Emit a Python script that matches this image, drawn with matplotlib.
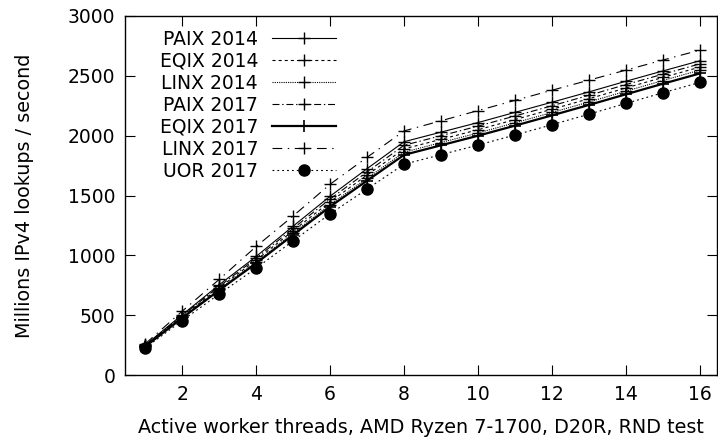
import matplotlib
matplotlib.use('Agg')
import matplotlib.pyplot as plt

plt.rcParams['font.family'] = ['DejaVu Sans']
plt.rcParams['lines.scale_dashes'] = False

threads = list(range(1, 17))

paix_2014 = [252, 505, 755, 992, 1245, 1495, 1725, 1950, 2030, 2110, 2195, 2280, 2366, 2455, 2541, 2626]
eqix_2014 = [245, 490, 730, 961, 1207, 1448, 1672, 1890, 1970, 2050, 2135, 2221, 2309, 2399, 2487, 2573]
linx_2014 = [242, 483, 718, 945, 1188, 1425, 1645, 1862, 1943, 2023, 2108, 2194, 2282, 2372, 2461, 2548]
paix_2017 = [249, 498, 741, 977, 1226, 1472, 1698, 1920, 2000, 2080, 2165, 2250, 2338, 2427, 2514, 2600]
eqix_2017 = [239, 478, 710, 935, 1172, 1408, 1625, 1840, 1920, 2000, 2084, 2170, 2257, 2346, 2434, 2520]
linx_2017 = [262, 535, 800, 1075, 1330, 1595, 1820, 2040, 2125, 2210, 2295, 2380, 2464, 2548, 2632, 2715]
uor_2017 = [228, 456, 678, 894, 1122, 1348, 1555, 1762, 1842, 1922, 2006, 2092, 2180, 2270, 2359, 2445]

fig = plt.figure(figsize=(7.18, 4.44), dpi=100)
ax = fig.add_axes([0.174, 0.155, 0.825, 0.809])

ax.plot(threads, paix_2014, color='black', lw=0.8, marker='+', ms=9, mew=1, label='PAIX 2014')
ax.plot(threads, eqix_2014, color='black', lw=0.8, marker='+', ms=9, mew=1, dashes=(2.2, 2.2), label='EQIX 2014')
ax.plot(threads, linx_2014, color='black', lw=0.8, marker='+', ms=9, mew=1, dashes=(0.8, 0.8), label='LINX 2014')
ax.plot(threads, paix_2017, color='black', lw=0.8, marker='+', ms=9, mew=1, dashes=(5, 2, 1, 2), label='PAIX 2017')
ax.plot(threads, eqix_2017, color='black', lw=1.6, marker='+', ms=9, mew=1.2, label='EQIX 2017')
ax.plot(threads, linx_2017, color='black', lw=0.8, marker='+', ms=9, mew=1, dashes=(7, 4, 1, 4), label='LINX 2017')
ax.plot(threads, uor_2017, color='black', lw=0.8, marker='o', ms=8, dashes=(1.3, 2.2), label='UOR 2017')

ax.set_xlim(0.45, 16.47)
ax.set_ylim(0, 3000)
ax.set_xticks([2, 4, 6, 8, 10, 12, 14, 16])
ax.set_yticks([0, 500, 1000, 1500, 2000, 2500, 3000])
ax.tick_params(direction='in', length=7, width=0.8, top=True, right=True, labelsize=13.5, pad=7)
for s in ax.spines.values():
    s.set_linewidth(1)

ax.set_xlabel('Active worker threads, AMD Ryzen 7-1700, D20R, RND test', fontsize=13.8, labelpad=10)
ax.set_ylabel('Millions IPv4 lookups / second', fontsize=13.8, labelpad=24)

ax.legend(loc='upper left', bbox_to_anchor=(0.03, 1.008), frameon=False, markerfirst=False,
          fontsize=13.5, handlelength=3.4, handletextpad=0.75, labelspacing=0.16)

fig.savefig('out.png', dpi=100)
